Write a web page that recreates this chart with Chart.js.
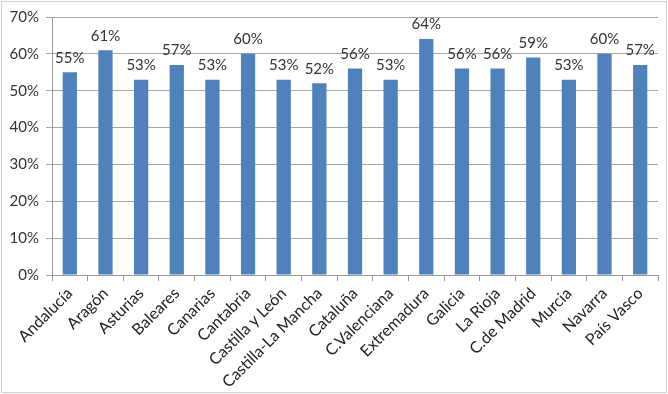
<!DOCTYPE html>
<html>
<head>
<meta charset="utf-8">
<script src="https://cdn.jsdelivr.net/npm/chart.js@4/dist/chart.umd.min.js"></script>
<style>
html,body{margin:0;padding:0;background:#fff;}
#wrap{width:668px;height:394px;position:relative;}
canvas{display:block;}
</style>
</head>
<body>
<div id="wrap"><canvas id="c" width="668" height="394"></canvas></div>
<script>
const categories = ["Andalucía","Aragón","Asturias","Baleares","Canarias","Cantabria","Castilla y León","Castilla-La Mancha","Cataluña","C.Valenciana","Extremadura","Galicia","La Rioja","C.de Madrid","Murcia","Navarra","País Vasco"];
const values = [55,61,53,57,53,60,53,52,56,53,64,56,56,59,53,60,57];
const yTicks = [0,10,20,30,40,50,60,70];

const FONT = "Lato, 'Open Sans', 'Liberation Sans', sans-serif";

const labelPlugin = {
  id: 'valueLabels',
  afterDatasetsDraw(chart) {
    const ctx = chart.ctx;
    const meta = chart.getDatasetMeta(0);
    ctx.save();
    ctx.font = "15px " + FONT;
    ctx.fillStyle = "#333";
    ctx.textAlign = "center";
    ctx.textBaseline = "bottom";
    meta.data.forEach((bar, i) => {
      ctx.fillText(values[i] + "%", bar.x, bar.y - 7);
    });
    ctx.restore();
  }
};
const borderPlugin = {
  id: 'outerBorder',
  afterDraw(chart) {
    const ctx = chart.ctx;
    ctx.save();
    ctx.strokeStyle = "#d0d0d0";
    ctx.lineWidth = 1;
    ctx.strokeRect(1.5, 1.5, chart.width - 3, chart.height - 3);
    ctx.restore();
  }
};

new Chart(document.getElementById('c'), {
  type: 'bar',
  data: {
    labels: categories,
    datasets: [{
      data: values,
      backgroundColor: '#4f81bd',
      borderWidth: 0,
      barPercentage: 0.4,
      categoryPercentage: 1.0
    }]
  },
  options: {
    responsive: false,
    animation: false,
    layout: { padding: { top: 17, right: 10, left: 0, bottom: 0 } },
    plugins: { legend: { display: false }, tooltip: { enabled: false } },
    scales: {
      x: {
        grid: { display: true, drawOnChartArea: false, drawTicks: true, tickLength: 6, offset: true, color: '#999' },
        border: { color: '#999' },
        ticks: { color: '#222', font: { size: 16, family: FONT }, minRotation: 45, maxRotation: 45, autoSkip: false, padding: 3 },
        afterFit(scale) { scale.height = 119; }
      },
      y: {
        min: 0, max: 70,
        afterBuildTicks(scale) { scale.ticks = yTicks.map(v => ({ value: v })); },
        grid: { color: '#a6a6a6', tickLength: 6 },
        border: { color: '#999' },
        ticks: { color: '#333', font: { size: 15, family: FONT }, padding: 7, callback: v => v + '%' },
        afterFit(scale) { scale.width = 52; }
      }
    }
  },
  plugins: [labelPlugin, borderPlugin]
});
</script>
</body>
</html>
